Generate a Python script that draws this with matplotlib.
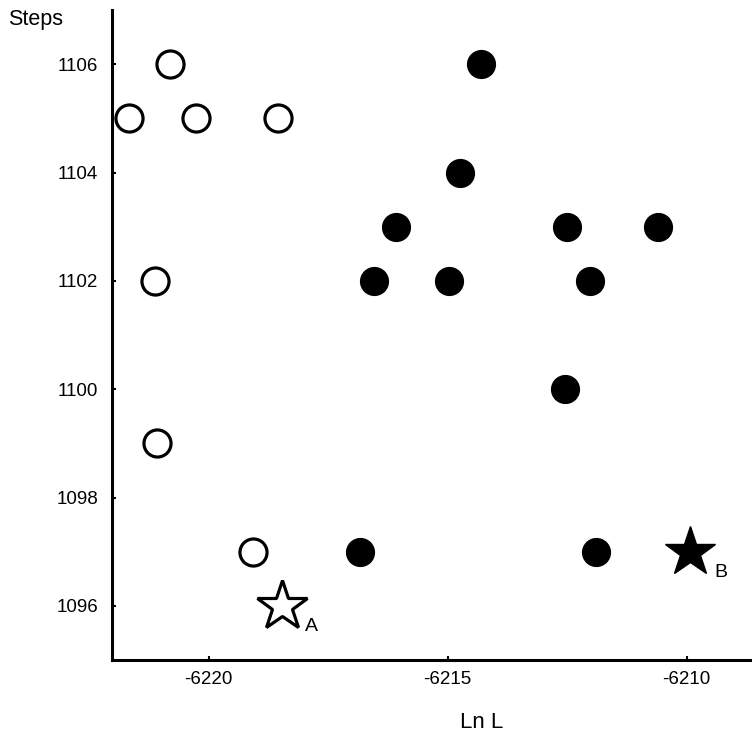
import matplotlib
matplotlib.use("Agg")
import matplotlib.pyplot as plt

plt.rcParams["font.family"] = ["Liberation Sans", "DejaVu Sans"]
plt.rcParams["axes.unicode_minus"] = False

# open circles
open_lnl = [-6220.8, -6221.66, -6220.26, -6218.54, -6221.12, -6221.07, -6219.08]
open_steps = [1106, 1105, 1105, 1105, 1102, 1099, 1097]

# filled circles
filled_lnl = [-6214.29, -6214.73, -6216.07, -6216.53, -6214.96, -6212.51,
              -6210.6, -6212.01, -6212.55, -6216.84, -6211.9]
filled_steps = [1106, 1104, 1103, 1102, 1102, 1103, 1103, 1102, 1100, 1097, 1097]

# stars A (open) and B (filled)
star_a = (-6218.46, 1096)
star_b = (-6209.93, 1097)

fig = plt.figure(figsize=(7.52, 7.42), dpi=100)
ax = fig.add_axes([112 / 752, 82 / 742, 640 / 752, 650 / 742])

ax.plot(open_lnl, open_steps, "o", ms=19.5, mfc="white", mec="black", mew=2.3,
        linestyle="none")
ax.plot(filled_lnl, filled_steps, "o", ms=20, mfc="black", mec="black",
        linestyle="none")
ax.plot(*star_a, "*", ms=38, mfc="white", mec="black", mew=2.3)
ax.plot(*star_b, "*", ms=38, mfc="black", mec="black")

ax.text(star_a[0] + 0.62, star_a[1] - 0.22, "A", fontsize=14, va="top", ha="center")
ax.text(star_b[0] + 0.65, star_b[1] - 0.22, "B", fontsize=14, va="top", ha="center")

ax.set_xlim(-6222.02, -6208.63)
ax.set_ylim(1095.0, 1107.0)
ax.set_xticks([-6220, -6215, -6210])
ax.set_yticks([1096, 1098, 1100, 1102, 1104, 1106])

for s in ["top", "right"]:
    ax.spines[s].set_visible(False)
for s in ["left", "bottom"]:
    ax.spines[s].set_linewidth(2.2)

ax.tick_params(direction="in", length=3, width=1.5, labelsize=13.5)
ax.tick_params(axis="y", pad=10)
ax.tick_params(axis="x", pad=8)

ax.set_xlabel("Ln L", fontsize=16)
ax.xaxis.set_label_coords(0.577, -0.08)
fig.text(8 / 752, 1 - 20 / 742, "Steps", fontsize=15.5, va="center", ha="left")

fig.savefig("out.png", dpi=100)
